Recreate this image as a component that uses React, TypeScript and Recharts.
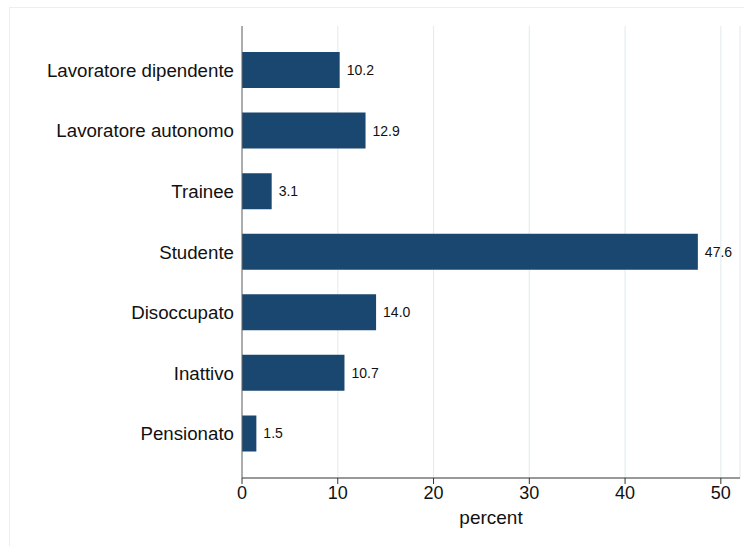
import React from 'react';
import { BarChart, Bar, XAxis, YAxis, CartesianGrid, LabelList } from 'recharts';

const categories = [
  'Lavoratore dipendente',
  'Lavoratore autonomo',
  'Trainee',
  'Studente',
  'Disoccupato',
  'Inattivo',
  'Pensionato',
];
const percents = [10.2, 12.9, 3.1, 47.6, 14.0, 10.7, 1.5];
const xTicks = [0, 10, 20, 30, 40, 50];

const data = categories.map((name, i) => ({ name, percent: percents[i] }));

const FONT = '"Liberation Sans", Arial, Helvetica, sans-serif';

export default function App() {
  return (
    <div style={{ position: 'absolute', left: 0, top: 0, width: 744, height: 546, background: '#fff', overflow: 'hidden', fontFamily: FONT }}>
      {/* light outer frame, runs off the right and bottom edges */}
      <div style={{ position: 'absolute', left: 9, top: 7, width: 760, height: 560, border: '1px solid #eceff0', boxSizing: 'border-box' }} />
      <div style={{ position: 'absolute', left: 0, top: 0 }}>
        <BarChart
          width={744}
          height={546}
          data={data}
          layout="vertical"
          margin={{ top: 26, right: 4, bottom: 0, left: 0 }}
        >
          <CartesianGrid horizontal={false} stroke="#e4eef1" strokeWidth={1.2} />
          <XAxis
            type="number"
            domain={[0, 52]}
            ticks={xTicks}
            allowDataOverflow
            height={68}
            stroke="#333"
            tickSize={6}
            tickMargin={2}
            tick={{ fontSize: 18, fill: '#111', fontFamily: FONT }}
            label={{ value: 'percent', position: 'insideBottom', offset: 22, fontSize: 19, fill: '#111', fontFamily: FONT }}
          />
          <YAxis
            type="category"
            dataKey="name"
            width={242}
            stroke="#666"
            tickLine={false}
            tickSize={0}
            tickMargin={8}
            padding={{ top: 14, bottom: 14 }}
            tick={{ fontSize: 18.7, fill: '#111', fontFamily: FONT }}
          />
          <Bar dataKey="percent" fill="#1a476f" barSize={36} isAnimationActive={false}>
            <LabelList
              dataKey="percent"
              position="right"
              offset={7}
              formatter={(v: any) => Number(v).toFixed(1)}
              style={{ fontSize: 14, fill: '#111', fontFamily: FONT }}
            />
          </Bar>
        </BarChart>
      </div>
    </div>
  );
}
